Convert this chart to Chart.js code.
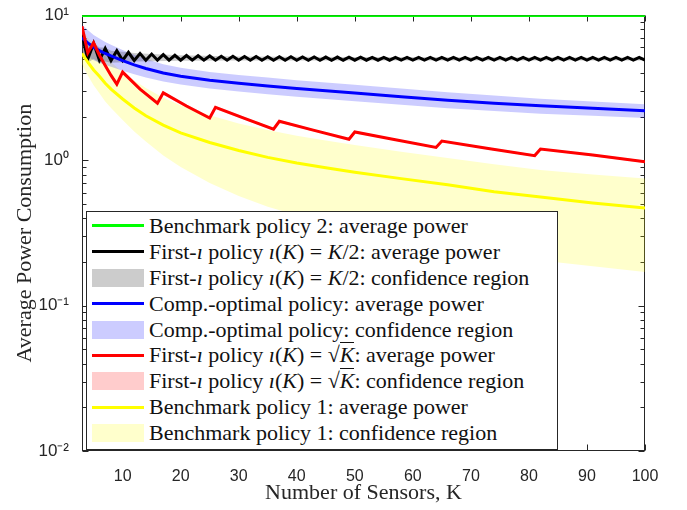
<!DOCTYPE html>
<html>
<head>
<meta charset="utf-8">
<script src="https://cdn.jsdelivr.net/npm/chart.js@4.4.1/dist/chart.umd.min.js"></script>
<style>
html,body{margin:0;padding:0;background:#fff;}
#wrap{position:relative;width:687px;height:510px;overflow:hidden;}
#legend{position:absolute;left:86px;top:211px;width:472px;height:239px;box-sizing:border-box;border:1px solid #262626;background:#fff;
  font-family:"Liberation Serif","Times New Roman",serif;font-size:22px;color:#111;padding-top:1px;}
.row{height:25.9px;display:flex;align-items:center;white-space:nowrap;}
.sw{width:52px;margin-left:5px;margin-right:5px;flex:none;}
.ln{height:3px;}
.fl{height:18px;}
.ov{border-top:1.3px solid #111;line-height:1;display:inline-block;padding-top:1px;}
</style>
</head>
<body>
<div id="wrap">
<canvas id="c" width="687" height="510"></canvas>
<div id="legend">
  <div class="row"><div class="sw ln" style="background:#00ff00"></div><span>Benchmark policy 2: average power</span></div>
  <div class="row"><div class="sw ln" style="background:#000"></div><span>First-<i>ı</i> policy <i>ı</i>(<i>K</i>) = <i>K</i>/2: average power</span></div>
  <div class="row"><div class="sw fl" style="background:rgba(0,0,0,0.2)"></div><span>First-<i>ı</i> policy <i>ı</i>(<i>K</i>) = <i>K</i>/2: confidence region</span></div>
  <div class="row"><div class="sw ln" style="background:#0000ff"></div><span>Comp.-optimal policy: average power</span></div>
  <div class="row"><div class="sw fl" style="background:rgba(0,0,255,0.2)"></div><span>Comp.-optimal policy: confidence region</span></div>
  <div class="row"><div class="sw ln" style="background:#ff0000"></div><span>First-<i>ı</i> policy <i>ı</i>(<i>K</i>) = √<span class="ov"><i>K</i></span>: average power</span></div>
  <div class="row"><div class="sw fl" style="background:rgba(255,0,0,0.2)"></div><span>First-<i>ı</i> policy <i>ı</i>(<i>K</i>) = √<span class="ov"><i>K</i></span>: confidence region</span></div>
  <div class="row"><div class="sw ln" style="background:#ffff00"></div><span>Benchmark policy 1: average power</span></div>
  <div class="row"><div class="sw fl" style="background:rgba(255,255,0,0.2)"></div><span>Benchmark policy 1: confidence region</span></div>
</div>
</div>
<script>
// ---- data ----
const kBench2 = [3, 100];
const bench2Avg = [10, 10];

const kAll = [3,4,5,6,7,8,9,10,11,12,13,14,15,16,17,18,19,20,21,22,23,24,25,26,27,28,29,30,31,32,33,34,35,36,37,38,39,40,
  41,42,43,44,45,46,47,48,49,50,51,52,53,54,55,56,57,58,59,60,61,62,63,64,65,66,67,68,69,70,71,72,73,74,75,76,77,78,79,80,
  81,82,83,84,85,86,87,88,89,90,91,92,93,94,95,96,97,98,99,100];
const firstHalfAvg = [
  7.3,5.0,6.4,4.9,5.9,4.88,5.7,4.88,5.55,4.88,
  5.45,4.9,5.4,4.9,5.35,4.9,5.3,4.9,5.28,4.9,
  5.26,4.9,5.24,4.9,5.22,4.9,5.21,4.9,5.2,4.9,
  5.19,4.9,5.18,4.9,5.17,4.9,5.17,4.9,5.16,4.9,
  5.16,4.9,5.15,4.9,5.15,4.9,5.14,4.9,5.14,4.9,
  5.13,4.9,5.13,4.9,5.13,4.9,5.12,4.9,5.12,4.9,
  5.12,4.9,5.12,4.9,5.12,4.9,5.12,4.9,5.12,4.9,
  5.12,4.9,5.12,4.9,5.12,4.9,5.12,4.9,5.12,4.9,
  5.12,4.9,5.12,4.9,5.12,4.9,5.12,4.9,5.12,4.9,
  5.12,4.9,5.12,4.9,5.12,4.9,5.12,4.9];

const kGray = [3,4,5,6,7,8,10,12,15,20,30,50,100];
const firstHalfHi = [7.6,6.4,6.5,6.0,6.0,5.7,5.6,5.5,5.4,5.3,5.2,5.15,5.12];
const firstHalfLo = [5.6,4.7,5.0,4.7,4.8,4.7,4.75,4.8,4.82,4.85,4.87,4.88,4.88];

const kSqrt = [3,4,5,6,7,8,9,10,13,16,17,21,25,26,31,36,37,43,49,50,57,64,65,73,81,82,91,100];
const firstSqrtAvg = [8.4,5.5,6.45,5.3,4.5,3.85,3.35,4.06,3.1,2.48,2.92,2.37,1.96,2.32,1.95,1.64,1.86,1.61,1.40,1.57,1.39,1.23,1.36,1.21,1.08,1.2,1.09,0.98];
const firstSqrtHi = [8.7,5.7,6.7,5.5,4.65,3.98,3.46,4.18,3.18,2.54,2.99,2.43,2.0,2.37,1.99,1.67,1.9,1.64,1.42,1.6,1.41,1.25,1.38,1.23,1.1,1.22,1.11,1.0];
const firstSqrtLo = [8.1,5.3,6.2,5.1,4.35,3.72,3.24,3.94,3.02,2.42,2.85,2.31,1.92,2.27,1.91,1.61,1.82,1.58,1.38,1.54,1.37,1.21,1.34,1.19,1.06,1.18,1.07,0.96];

const kSmooth = [3,4,5,6,7,8,10,12,14,17,20,25,30,35,40,45,50,58,66,74,82,91,100];
const compAvg = [7.0,6.45,6.0,5.7,5.45,5.24,4.87,4.55,4.3,4.0,3.8,3.57,3.4,3.26,3.13,3.02,2.91,2.75,2.6,2.48,2.38,2.29,2.2];
const compHi  = [8.6,7.9,7.3,6.9,6.55,6.25,5.75,5.35,5.0,4.6,4.35,4.07,3.87,3.72,3.57,3.44,3.32,3.13,2.95,2.8,2.66,2.55,2.44];
const compLo  = [5.6,5.2,4.9,4.7,4.55,4.42,4.15,3.92,3.72,3.49,3.33,3.13,2.98,2.86,2.75,2.65,2.56,2.42,2.29,2.19,2.1,2.03,1.96];
const bench1Avg = [5.45,4.75,4.2,3.8,3.4,3.1,2.65,2.3,2.03,1.75,1.55,1.33,1.17,1.05,0.96,0.89,0.83,0.75,0.68,0.61,0.56,0.51,0.47];
const bench1Hi  = [8.0,7.0,6.3,5.7,5.2,4.75,4.05,3.55,3.15,2.7,2.4,2.05,1.8,1.62,1.48,1.37,1.28,1.15,1.04,0.94,0.86,0.8,0.75];
const bench1Lo  = [4.6,3.85,3.3,2.9,2.55,2.3,1.9,1.58,1.35,1.08,0.9,0.7,0.57,0.48,0.42,0.37,0.33,0.285,0.25,0.225,0.205,0.187,0.171];

const xTickValues = [10,20,30,40,50,60,70,80,90,100];
const yTickValues = [0.01,0.1,1,10];
const yTickLabels = ['10\u207B\u00B2','10\u207B\u00B9','10\u2070','10\u00B9'];
const yMinorTicks = [0.02,0.03,0.04,0.05,0.06,0.07,0.08,0.09,0.2,0.3,0.4,0.5,0.6,0.7,0.8,0.9,2,3,4,5,6,7,8,9];

// ---- build ----
const pts = (xs, ys) => xs.map((x, i) => ({x: x, y: ys[i]}));
const line = (label, xs, ys, color, order, w) => ({
  label, data: pts(xs, ys), borderColor: color, backgroundColor: color, borderWidth: w || 3,
  pointRadius: 0, tension: 0, fill: false, order
});
const band = (label, xs, ys, fillColor, fillTarget, order) => ({
  label, data: pts(xs, ys), borderWidth: 0, borderColor: 'rgba(0,0,0,0)', backgroundColor: fillColor,
  pointRadius: 0, tension: 0, fill: fillTarget, order
});

const datasets = [
  line('Benchmark policy 2: average power', kBench2, bench2Avg, '#00ff00', 4, 3.5),
  line('First-ı policy ı(K)=K/2: average power', kAll, firstHalfAvg, '#000000', 3),
  band('First-ı policy ı(K)=K/2: confidence region', kGray, firstHalfHi, 'rgba(0,0,0,0.2)', '+1', 11),
  band('K/2 lower', kGray, firstHalfLo, 'rgba(0,0,0,0)', false, 11),
  line('Comp.-optimal policy: average power', kSmooth, compAvg, '#0000ff', 2),
  band('Comp.-optimal policy: confidence region', kSmooth, compHi, 'rgba(0,0,255,0.2)', '+1', 12),
  band('comp lower', kSmooth, compLo, 'rgba(0,0,0,0)', false, 12),
  line('First-ı policy ı(K)=√K: average power', kSqrt, firstSqrtAvg, '#ff0000', 1),
  band('First-ı policy ı(K)=√K: confidence region', kSqrt, firstSqrtHi, 'rgba(255,0,0,0.2)', '+1', 13),
  band('sqrt lower', kSqrt, firstSqrtLo, 'rgba(0,0,0,0)', false, 13),
  line('Benchmark policy 1: average power', kSmooth, bench1Avg, '#ffff00', 0),
  band('Benchmark policy 1: confidence region', kSmooth, bench1Hi, 'rgba(255,255,0,0.2)', '+1', 14),
  band('bench1 lower', kSmooth, bench1Lo, 'rgba(0,0,0,0)', false, 14)
];

const frame = {
  id: 'frame',
  beforeDatasetsDraw(chart) {
    const {ctx, chartArea: a, scales: {x, y}} = chart;
    ctx.save();
    ctx.strokeStyle = '#262626';
    ctx.lineWidth = 1;
    const L = Math.round(a.left) + 0.5, R = Math.round(a.right) - 0.5;
    const T = Math.round(a.top) + 0.5, B = Math.round(a.bottom) - 0.5;
    ctx.strokeRect(L, T, R - L, B - T);
    ctx.beginPath();
    xTickValues.forEach(v => {
      const p = Math.round(x.getPixelForValue(v)) + 0.5;
      ctx.moveTo(p, B); ctx.lineTo(p, B - 6);
      ctx.moveTo(p, T); ctx.lineTo(p, T + 6);
    });
    yTickValues.forEach(v => {
      const p = Math.round(y.getPixelForValue(v)) + 0.5;
      ctx.moveTo(L, p); ctx.lineTo(L + 6, p);
      ctx.moveTo(R, p); ctx.lineTo(R - 6, p);
    });
    yMinorTicks.forEach(v => {
      const p = Math.round(y.getPixelForValue(v)) + 0.5;
      ctx.moveTo(L, p); ctx.lineTo(L + 4, p);
      ctx.moveTo(R, p); ctx.lineTo(R - 4, p);
    });
    ctx.stroke();
    ctx.restore();
  }
};

new Chart(document.getElementById('c'), {
  type: 'line',
  data: {datasets},
  plugins: [frame],
  options: {
    responsive: false,
    animation: false,
    layout: {padding: {top: 7, right: 42, left: 0, bottom: 0}},
    plugins: {legend: {display: false}, tooltip: {enabled: false}},
    scales: {
      x: {
        type: 'linear', min: 3, max: 100,
        grid: {display: false}, border: {display: false},
        afterBuildTicks: s => { s.ticks = xTickValues.map(v => ({value: v})); },
        ticks: {font: {family: 'Liberation Sans', size: 16}, color: '#262626', padding: 8, maxRotation: 0, autoSkip: false},
        title: {display: true, text: 'Number of Sensors, K', font: {family: 'Liberation Serif', size: 22}, color: '#262626', padding: {top: 0, bottom: 4}},
        afterFit: s => { s.height = 59; }
      },
      y: {
        type: 'logarithmic', min: 0.01, max: 10,
        grid: {display: false}, border: {display: false},
        afterBuildTicks: s => { s.ticks = yTickValues.map(v => ({value: v, major: true})); },
        ticks: {font: {family: 'Liberation Sans', size: 17}, color: '#262626', padding: 5, autoSkip: false,
          callback: (v, i) => yTickLabels[i]},
        title: {display: true, text: 'Average Power Consumption', font: {family: 'Liberation Serif', size: 22}, color: '#262626', padding: {top: 12, bottom: 0}},
        afterFit: s => { s.width = 82; }
      }
    }
  }
});
</script>
</body>
</html>
